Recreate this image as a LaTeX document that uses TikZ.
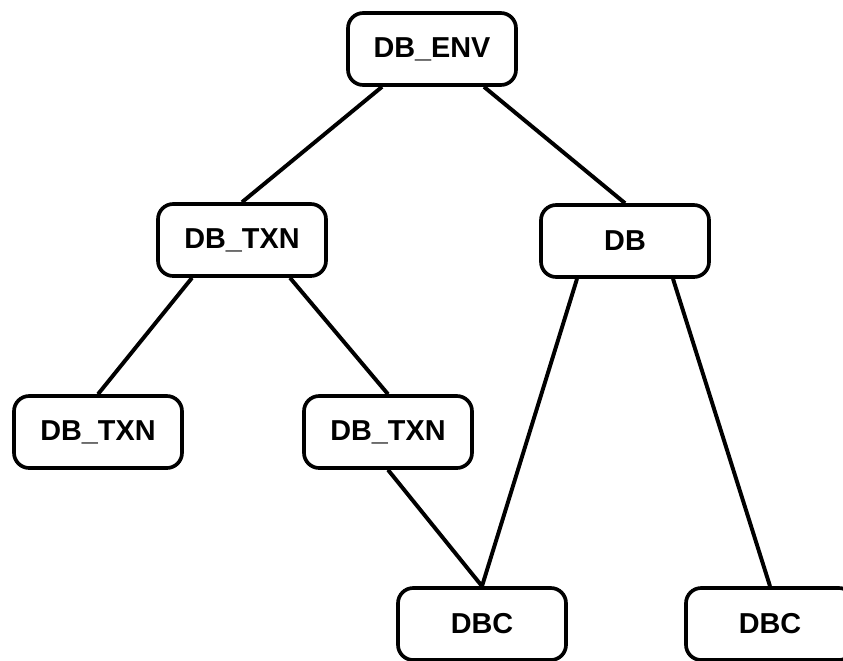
\documentclass[tikz,border=0pt]{standalone}
\usepackage{fontspec}
\setmainfont{Liberation Sans}
\usepackage{tikz}
\usetikzlibrary{positioning}

\begin{document}
\begin{tikzpicture}[
        % Node styles
        handle/.style={rectangle, draw=black, line width=2.6pt, fill=white,
                        minimum width=4.2cm, minimum height=1.8cm, text centered,
                        rounded corners=0.38cm, font=\bfseries\fontsize{20.5}{24}\selectfont},
        link/.style={line width=2.8pt}
    ]
        % Fixed page size
        \useasboundingbox (0,0) rectangle (21.075,-16.5);

        % Environment at the top
        \node[handle] (env) at (10.8,-1.225) {DB\_ENV};

        % Second level: transaction and database
        \node[handle] (txn) at (6.05,-6.0) {DB\_TXN};
        \node[handle] (db) at (15.625,-6.025) {DB};

        % Child transactions
        \node[handle] (txnleft) at (2.45,-10.8) {DB\_TXN};
        \node[handle] (txnright) at (9.7,-10.8) {DB\_TXN};

        % Cursors
        \node[handle] (dbcleft) at (12.05,-15.6) {DBC};
        \node[handle] (dbcright) at (19.25,-15.6) {DBC};

        % Links from the environment
        \draw[link] ([xshift=-1.25cm]env.south) -- (txn.north);
        \draw[link] ([xshift=1.3cm]env.south) -- (db.north);

        % Links from the parent transaction
        \draw[link] ([xshift=-1.25cm]txn.south) -- (txnleft.north);
        \draw[link] ([xshift=1.2cm]txn.south) -- (txnright.north);

        % Cursor links
        \draw[link] (txnright.south) -- (dbcleft.north);
        \draw[link] ([xshift=-1.2cm]db.south) -- (dbcleft.north);
        \draw[link] ([xshift=1.2cm]db.south) -- (dbcright.north);
    \end{tikzpicture}
\end{document}
